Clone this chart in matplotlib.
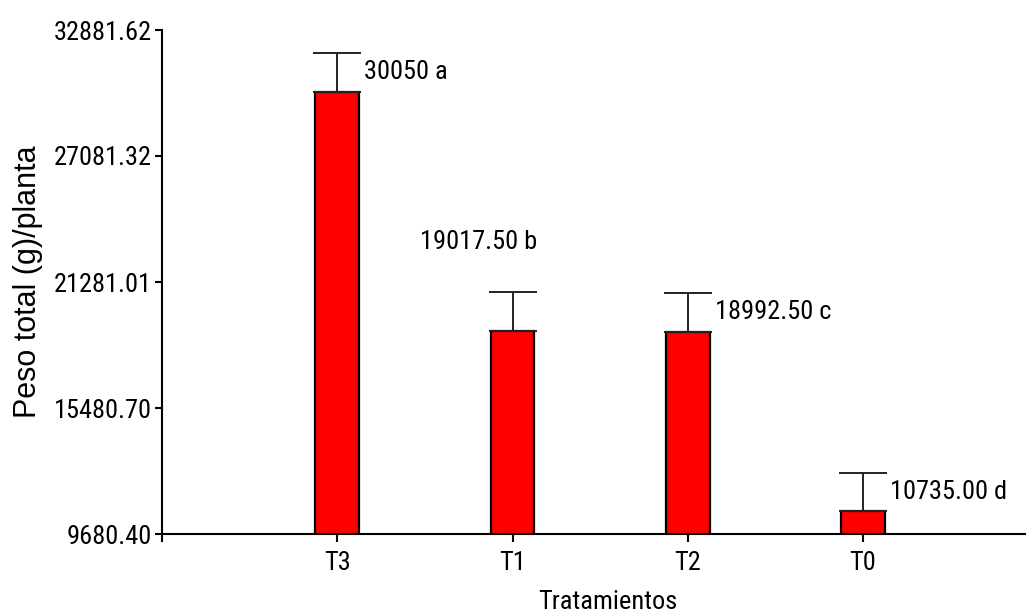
import matplotlib
matplotlib.use("Agg")
import matplotlib.pyplot as plt

# Data
treatments = ["T3", "T1", "T2", "T0"]
means = [30050.0, 19017.5, 18992.5, 10735.0]
errors = [1775.0, 1790.0, 1790.0, 1775.0]
labels = ["30050 a", "19017.50 b", "18992.50 c", "10735.00 d"]
y_ticks = [9680.40, 15480.70, 21281.01, 27081.32, 32881.62]
y_tick_labels = ["9680.40", "15480.70", "21281.01", "27081.32", "32881.62"]

narrow = ["Roboto Condensed", "Liberation Sans"]
fs = 19
regular = "Liberation Sans"

fig = plt.figure(figsize=(10.26, 6.13), dpi=100)
ax = fig.add_axes([162 / 1026, 79 / 613, 1 - 162 / 1026, 504 / 613])

pos = list(range(1, len(treatments) + 1))
ax.bar(pos, means, width=0.25, color="#ff0000", edgecolor="black",
       linewidth=1.6, zorder=2)
ax.errorbar(pos, means, yerr=[[0] * len(means), errors], fmt="none",
            ecolor="#222222", elinewidth=1.4, capsize=17, capthick=1.4,
            zorder=3)

ax.set_xlim(0, 4.93)
ax.set_ylim(y_ticks[0], y_ticks[-1])

# Value labels beside each bar
for i, (p, m, e, lab) in enumerate(zip(pos, means, errors, labels)):
    if i == 1:
        ax.text(p - 0.527, 23108, lab, ha="left", va="center",
                family=narrow, fontsize=fs)
    else:
        ax.text(p + 0.155, m + e / 2, lab, ha="left", va="center",
                family=narrow, fontsize=fs)

ax.set_yticks(y_ticks)
ax.set_yticklabels(y_tick_labels, family=narrow, fontsize=fs)
ax.set_xticks([0] + pos)
ax.set_xticklabels([""] + treatments, family=narrow, fontsize=fs)
ax.tick_params(axis="y", direction="out", length=5, width=1.5, pad=2.2)
ax.tick_params(axis="x", direction="out", length=6, width=1.5, pad=6.5)

for side in ("top", "right"):
    ax.spines[side].set_visible(False)
for side in ("left", "bottom"):
    ax.spines[side].set_linewidth(1.5)

ax.set_ylabel("Peso total (g)/planta", family=regular, fontsize=22)
ax.yaxis.set_label_coords(-0.138, 0.5)
ax.set_xlabel("Tratamientos", family=narrow, fontsize=fs)
ax.xaxis.set_label_coords(0.516, -0.111)

fig.savefig("out.png", dpi=100)
